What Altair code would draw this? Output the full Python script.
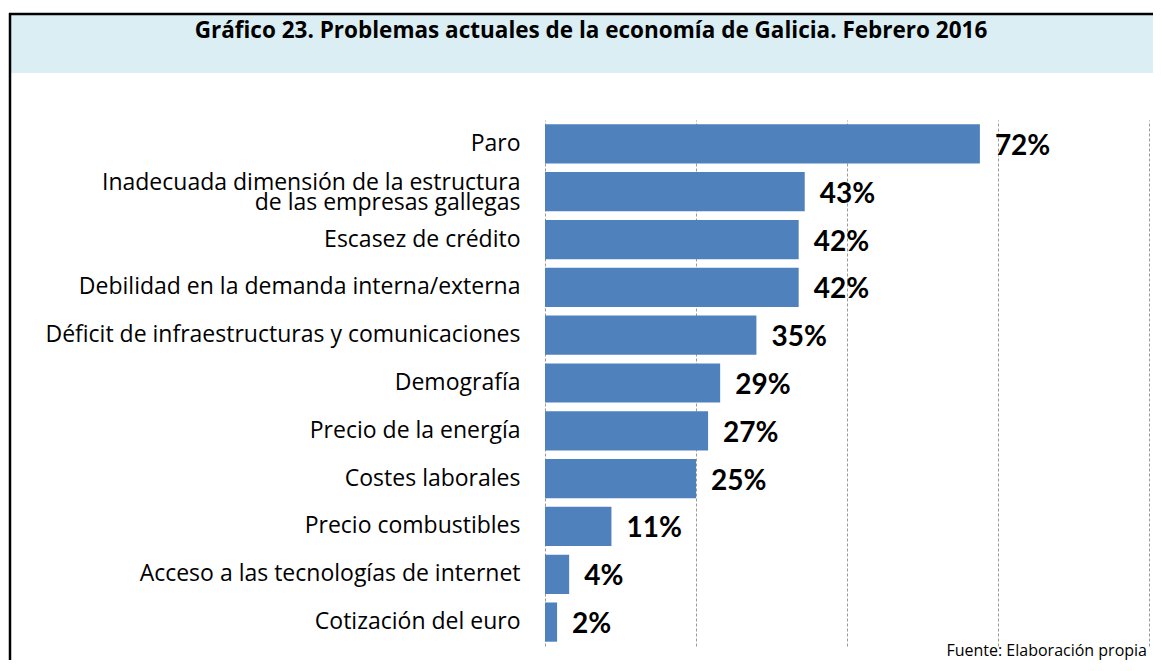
import altair as alt
import pandas as pd

categories = [
    "Paro",
    "Inadecuada dimensión de la estructura\nde las empresas gallegas",
    "Escasez de crédito",
    "Debilidad en la demanda interna/externa",
    "Déficit de infraestructuras y comunicaciones",
    "Demografía",
    "Precio de la energía",
    "Costes laborales",
    "Precio combustibles",
    "Acceso a las tecnologías de internet",
    "Cotización del euro",
]
values = [72, 43, 42, 42, 35, 29, 27, 25, 11, 4, 2]
grid_ticks = [0, 25, 50, 75, 100]

title_text = "Gráfico 23. Problemas actuales de la economía de Galicia. Febrero 2016"
source_text = "Fuente: Elaboración propia"

df = pd.DataFrame({"cat": categories, "val": values})
df["lab"] = [f"{v}%" for v in values]

FONT = "Open Sans"
NUMFONT = "Lato"
one = alt.Data(values=[{"a": 1}])

y_enc = alt.Y(
    "cat:N",
    sort=categories,
    scale=alt.Scale(paddingInner=0.18, paddingOuter=0.09),
    axis=alt.Axis(
        title=None,
        domain=False,
        ticks=False,
        grid=False,
        labelPadding=25,
        labelLimit=700,
        labelFont=FONT,
        labelFontSize=23,
        labelColor="#000000",
        labelLineHeight=20,
        labelOffset={"condition": {"test": "indexof(datum.label, '\\n') >= 0", "value": -9}, "value": 0},
        labelExpr="split(datum.label, '\\n')",
    ),
)
x_enc = alt.X(
    "val:Q",
    scale=alt.Scale(domain=[0, 100], nice=False),
    axis=alt.Axis(
        title=None,
        values=grid_ticks,
        labels=False,
        ticks=False,
        domain=False,
        grid=True,
        gridColor="#9a9a9a",
        gridDash=[3, 2],
        gridWidth=1,
    ),
)

band = alt.Chart(one).mark_rect(color="#DAEEF3").encode(
    x=alt.value(-534), x2=alt.value(608), y=alt.value(-105), y2=alt.value(-47)
)
frame_top = alt.Chart(one).mark_rule(color="#000000", strokeWidth=2.5).encode(
    x=alt.value(-536), x2=alt.value(608), y=alt.value(-106)
)
frame_left = alt.Chart(one).mark_rule(color="#000000", strokeWidth=2.5).encode(
    x=alt.value(-535), y=alt.value(-107), y2=alt.value(540)
)
title = alt.Chart(one).mark_text(
    font=FONT, fontSize=22.5, fontWeight="bold", color="#000000", align="center", baseline="middle"
).encode(x=alt.value(46), y=alt.value(-89), text=alt.value(title_text))
source = alt.Chart(one).mark_text(
    font=FONT, fontSize=16, color="#000000", align="right", baseline="alphabetic"
).encode(x=alt.value(602), y=alt.value(536), text=alt.value(source_text))

bars = alt.Chart(df).mark_bar(color="#4F81BD").encode(y=y_enc, x=x_enc)
labels = alt.Chart(df).mark_text(
    font=NUMFONT, fontSize=28, fontWeight="bold", color="#000000", align="left", baseline="middle", dx=15, dy=3
).encode(y=alt.Y("cat:N", sort=categories), x="val:Q", text="lab:N")

chart = (
    alt.layer(band, frame_top, frame_left, title, source, bars, labels)
    .properties(
        width=604,
        height=526,
        autosize=alt.AutoSizeParams(type="none"),
        padding={"left": 537, "top": 112, "right": 4, "bottom": 14},
        background="#ffffff",
    )
    .configure_view(stroke=None)
)

chart.save("out.html", embed_options={"renderer": "svg", "actions": False})
